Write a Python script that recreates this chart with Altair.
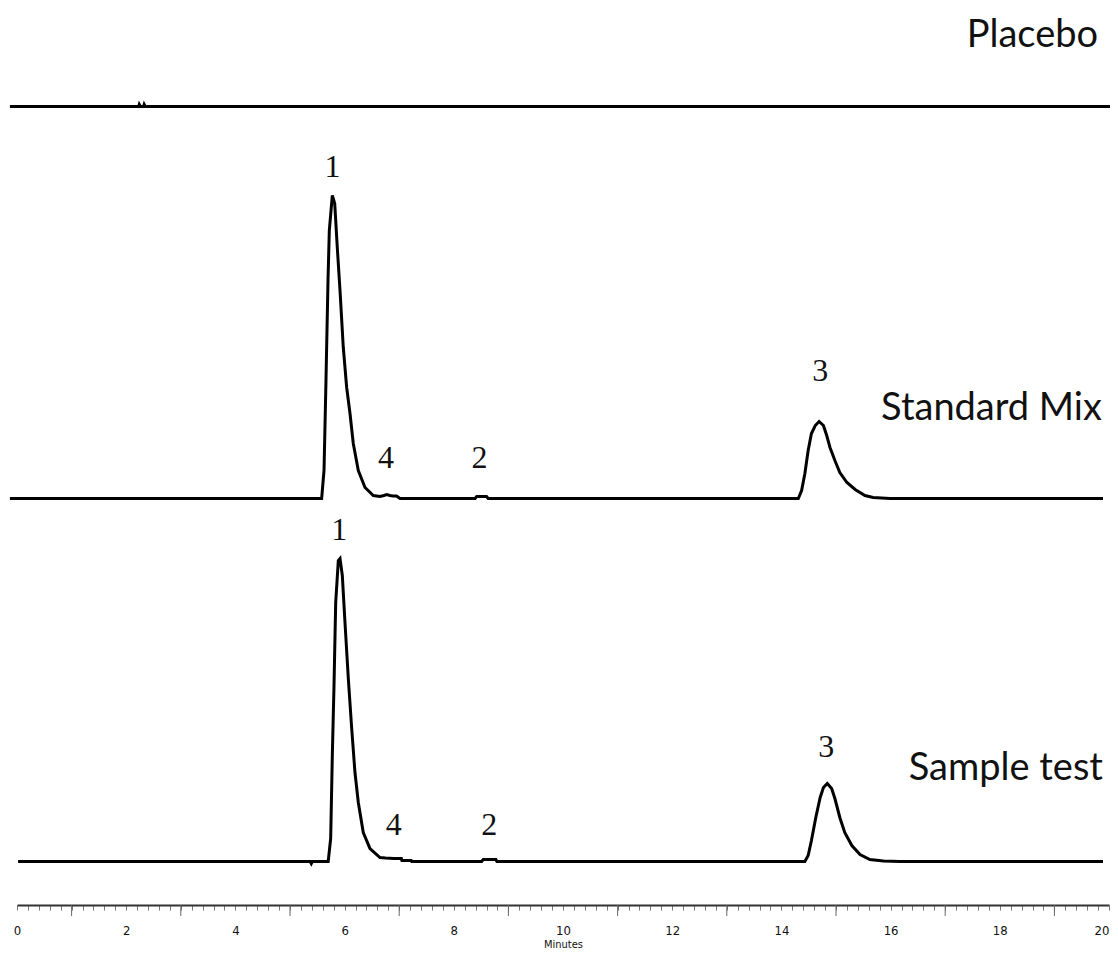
import altair as alt
import pandas as pd

# ---- chromatogram traces (time in minutes, detector signal in mAU) ----
placebo_t = [-0.13, 2.23, 2.24, 2.26, 2.32, 2.33, 2.35, 20.2]
placebo_s = [0, 0, 2, 0, 0, 2, 0, 0]

std_t = [-0.13, 5.58, 5.623, 5.659, 5.696, 5.720, 5.775, 5.819, 5.866, 5.916,
         5.976, 6.038, 6.099, 6.159, 6.251, 6.374, 6.526, 6.648, 6.72, 6.771,
         6.83, 6.886, 6.95, 7.015, 8.39, 8.42, 8.50, 8.60, 8.63,
         14.31, 14.37, 14.43, 14.49, 14.55, 14.62, 14.69, 14.77, 14.83, 14.89,
         14.98, 15.07, 15.20, 15.35, 15.53, 15.68, 15.99, 19.89]
std_s = [0, 0, 28, 118, 218, 268, 303, 295, 251, 208,
         151, 111, 85, 55, 28, 11, 3, 2, 3, 4,
         3, 2.5, 2.5, 0, 0, 2, 2, 2, 0,
         0, 8, 25, 48, 65, 73, 77, 73, 63, 51,
         38, 26, 16, 9, 3, 1, 0, 0]

smp_t = [0.02, 5.37, 5.39, 5.41, 5.70, 5.745, 5.775, 5.806, 5.837, 5.885,
         5.916, 5.958, 6.007, 6.068, 6.130, 6.190, 6.251, 6.342, 6.465, 6.648,
         6.75, 6.90, 7.04, 7.05, 7.22, 7.23, 8.51, 8.54, 8.77, 8.79,
         14.43, 14.49, 14.55, 14.63, 14.71, 14.77, 14.84, 14.92, 14.98, 15.07,
         15.16, 15.29, 15.44, 15.62, 15.87, 16.17, 19.89]
smp_s = [0, 0, -2, 0, 0, 23, 106, 176, 259, 301,
         303, 286, 239, 183, 133, 89, 59, 29, 13, 4,
         3.5, 3, 3, 1, 1, 0, 0, 2, 2, 0,
         0, 6, 21, 44, 64, 74, 78, 73, 63, 44,
         29, 16, 7, 2, 0.5, 0, 0]

trace_names = ["Placebo", "Standard Mix", "Sample test"]
trace_offsets = [755, 363, 0]          # vertical stacking of the traces
trace_label_t = [19.80, 19.87, 19.89]
trace_label_h = [60.0, 78.5, 81.5]

peak_labels = ["1", "4", "2", "3", "1", "4", "2", "3"]
peak_trace = ["Standard Mix"] * 4 + ["Sample test"] * 4
peak_t = [5.78, 6.76, 8.47, 14.71, 5.90, 6.90, 8.65, 14.82]
peak_h = [321.5, 30.5, 30.5, 117.5, 321.5, 26.5, 26.5, 104.5]

odd_minutes = [1, 3, 5, 7, 9, 11, 13, 15, 17, 19]
minor_ticks = [round(i * 0.2, 1) for i in range(101)]

# ---- tables ----
offset = dict(zip(trace_names, trace_offsets))
rows = []
for name, ts, ss in [("Placebo", placebo_t, placebo_s),
                     ("Standard Mix", std_t, std_s),
                     ("Sample test", smp_t, smp_s)]:
    for i, (t, s) in enumerate(zip(ts, ss)):
        rows.append({"trace": name, "order": i, "t": t, "level": s + offset[name]})
df = pd.DataFrame(rows)

names_df = pd.DataFrame({
    "name": trace_names,
    "t": trace_label_t,
    "level": [h + offset[n] for n, h in zip(trace_names, trace_label_h)],
})
peaks_df = pd.DataFrame({
    "label": peak_labels,
    "t": peak_t,
    "level": [h + offset[n] for n, h in zip(peak_trace, peak_h)],
})
odd_df = pd.DataFrame({"t": odd_minutes})

xscale = alt.Scale(domain=[0, 20], nice=False, zero=False)
yscale = alt.Scale(domain=[-43.5, 853.5], nice=False, zero=False)
xaxis = alt.Axis(
    values=minor_ticks, grid=False, labelOverlap=False, labelFlush=False,
    labelAlign={"condition": {"test": "datum.value >= 19.9", "value": "right"}, "value": "center"},
    labelExpr="abs(datum.value - round(datum.value / 2) * 2) < 0.001 ? format(datum.value, 'd') : ''",
)
x_enc = alt.X("t:Q", scale=xscale, axis=xaxis, title="Minutes")
y_enc = alt.Y("level:Q", scale=yscale, axis=None)

lines = alt.Chart(df).mark_line(color="black", strokeWidth=3).encode(
    x=x_enc, y=y_enc, detail="trace:N", order="order:Q",
)

names = alt.Chart(names_df).mark_text(
    align="right", baseline="alphabetic", font="Lato", fontSize=38, color="#111"
).encode(x=x_enc, y=y_enc, text="name:N")

peaks = alt.Chart(peaks_df).mark_text(
    align="center", baseline="alphabetic", font="Liberation Serif", fontSize=32, color="#111"
).encode(x=x_enc, y=y_enc, text="label:N")

odd_ticks = alt.Chart(odd_df).mark_rule(color="#666", strokeWidth=1).encode(
    x=x_enc, y=alt.value(897), y2=alt.value(908),
)

chart = alt.layer(lines, odd_ticks, names, peaks).properties(
    width=1092, height=897,
    padding={"left": 9, "right": 1, "top": 0, "bottom": 46},
    autosize=alt.AutoSizeParams(type="none"),
    background="white",
).configure_view(stroke=None).configure_axis(
    domainColor="#333", domainWidth=2,
    tickColor="#777", tickWidth=1, tickSize=5,
    labelFont="Liberation Sans Narrow, DejaVu Sans Condensed, sans-serif",
    labelFontSize=13, labelColor="#111", labelPadding=14,
    titleFont="Liberation Sans Narrow, DejaVu Sans Condensed, sans-serif",
    titleFontSize=11, titleFontWeight="normal", titleColor="#111", titlePadding=1,
)

chart.save("out.html", embed_options={"renderer": "svg", "actions": False})
